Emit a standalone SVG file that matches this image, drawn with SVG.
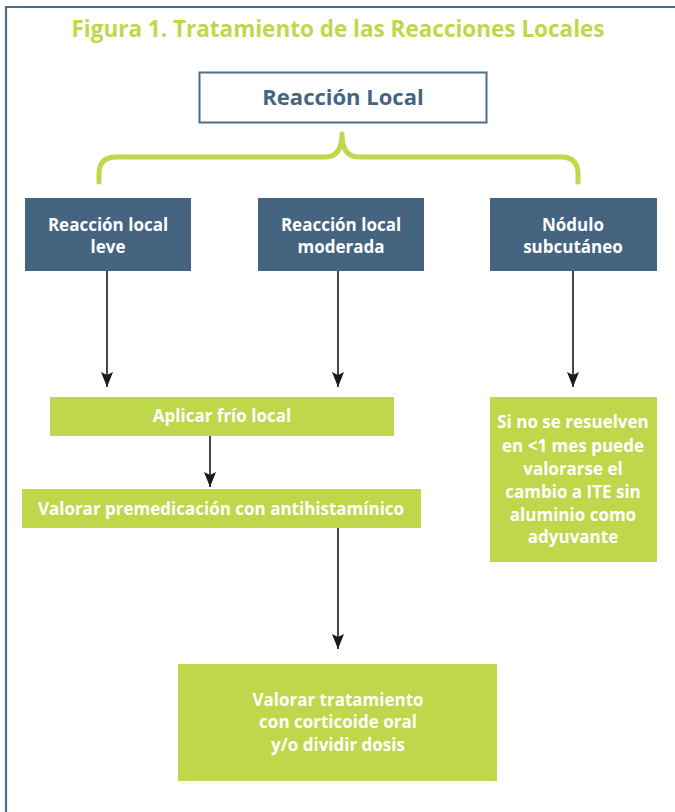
<svg xmlns="http://www.w3.org/2000/svg" width="675" height="812" viewBox="0 0 675 812">
<defs>
<marker id="ah" markerWidth="16" markerHeight="12" refX="15" refY="6" orient="auto" markerUnits="userSpaceOnUse" viewBox="0 0 16 12">
<path d="M0,0 L15,6 L0,12 L3,6 Z" fill="#1a1a1a"/>
</marker>
<style>
.t{font-family:"Open Sans",Lato,"Liberation Sans",sans-serif;font-weight:bold;text-anchor:middle}
.w{fill:#ffffff;font-size:17px}
.dark{fill:#44647f}
.green{fill:#bfd74a}
.c{stroke:#1a1a1a;stroke-width:1.6;fill:none;marker-end:url(#ah)}
</style>
</defs>
<rect width="675" height="812" fill="#ffffff"/>
<path d="M6,812 V7 H675" fill="none" stroke="#48708e" stroke-width="2.2"/>
<text class="t" x="338" y="37" font-size="22.5" fill="#bfd74a">Figura 1. Tratamiento de las Reacciones Locales</text>

<g id="reaccion-local">
<rect x="199.5" y="72.5" width="287" height="50" fill="#ffffff" stroke="#48708e" stroke-width="2"/>
<text class="t" x="343" y="105" font-size="22" fill="#44647f">Reacción Local</text>
</g>

<g id="brace">
<path d="M99,182 V174 Q99,157 116,157 H325 Q342,157 342,134 Q342,157 359,157 H561 Q578,157 578,174 V182" fill="none" stroke="#bfd74a" stroke-width="5" stroke-linecap="round" stroke-linejoin="round"/>
</g>

<g id="leve">
<rect class="dark" x="25" y="198" width="166" height="73"/>
<text class="t w" x="108" y="231">Reacción local</text>
<text class="t w" x="108" y="253">leve</text>
</g>
<g id="moderada">
<rect class="dark" x="258" y="198" width="166" height="73"/>
<text class="t w" x="341" y="231">Reacción local</text>
<text class="t w" x="341" y="253">moderada</text>
</g>
<g id="nodulo">
<rect class="dark" x="490" y="198" width="167" height="73"/>
<text class="t w" x="573" y="231">Nódulo</text>
<text class="t w" x="573" y="253">subcutáneo</text>
</g>

<g id="frio">
<rect class="green" x="50" y="397" width="344" height="39"/>
<text class="t w" x="222" y="422">Aplicar frío local</text>
</g>
<g id="premedicacion">
<rect class="green" x="22" y="489" width="399" height="39"/>
<text class="t w" x="221" y="515">Valorar premedicación con antihistamínico</text>
</g>
<g id="si-no">
<rect class="green" x="490" y="397" width="167" height="165"/>
<text class="t w" x="573" y="428">Si no se resuelven</text>
<text class="t w" x="573" y="452">en &lt;1 mes puede</text>
<text class="t w" x="573" y="475">valorarse el</text>
<text class="t w" x="573" y="498">cambio a ITE sin</text>
<text class="t w" x="573" y="521">aluminio como</text>
<text class="t w" x="573" y="543">adyuvante</text>
</g>
<g id="corticoide">
<rect class="green" x="178" y="664" width="319" height="117"/>
<text class="t w" x="338" y="706">Valorar tratamiento</text>
<text class="t w" x="338" y="728">con corticoide oral</text>
<text class="t w" x="338" y="751">y/o dividir dosis</text>
</g>

<g id="connectors">
<line class="c" x1="107" y1="271" x2="107" y2="387"/>
<line class="c" x1="338" y1="271" x2="338" y2="387"/>
<line class="c" x1="573" y1="271" x2="573" y2="387"/>
<line class="c" x1="210" y1="436" x2="210" y2="487"/>
<line class="c" x1="338" y1="528" x2="338" y2="649"/>
</g>
</svg>
